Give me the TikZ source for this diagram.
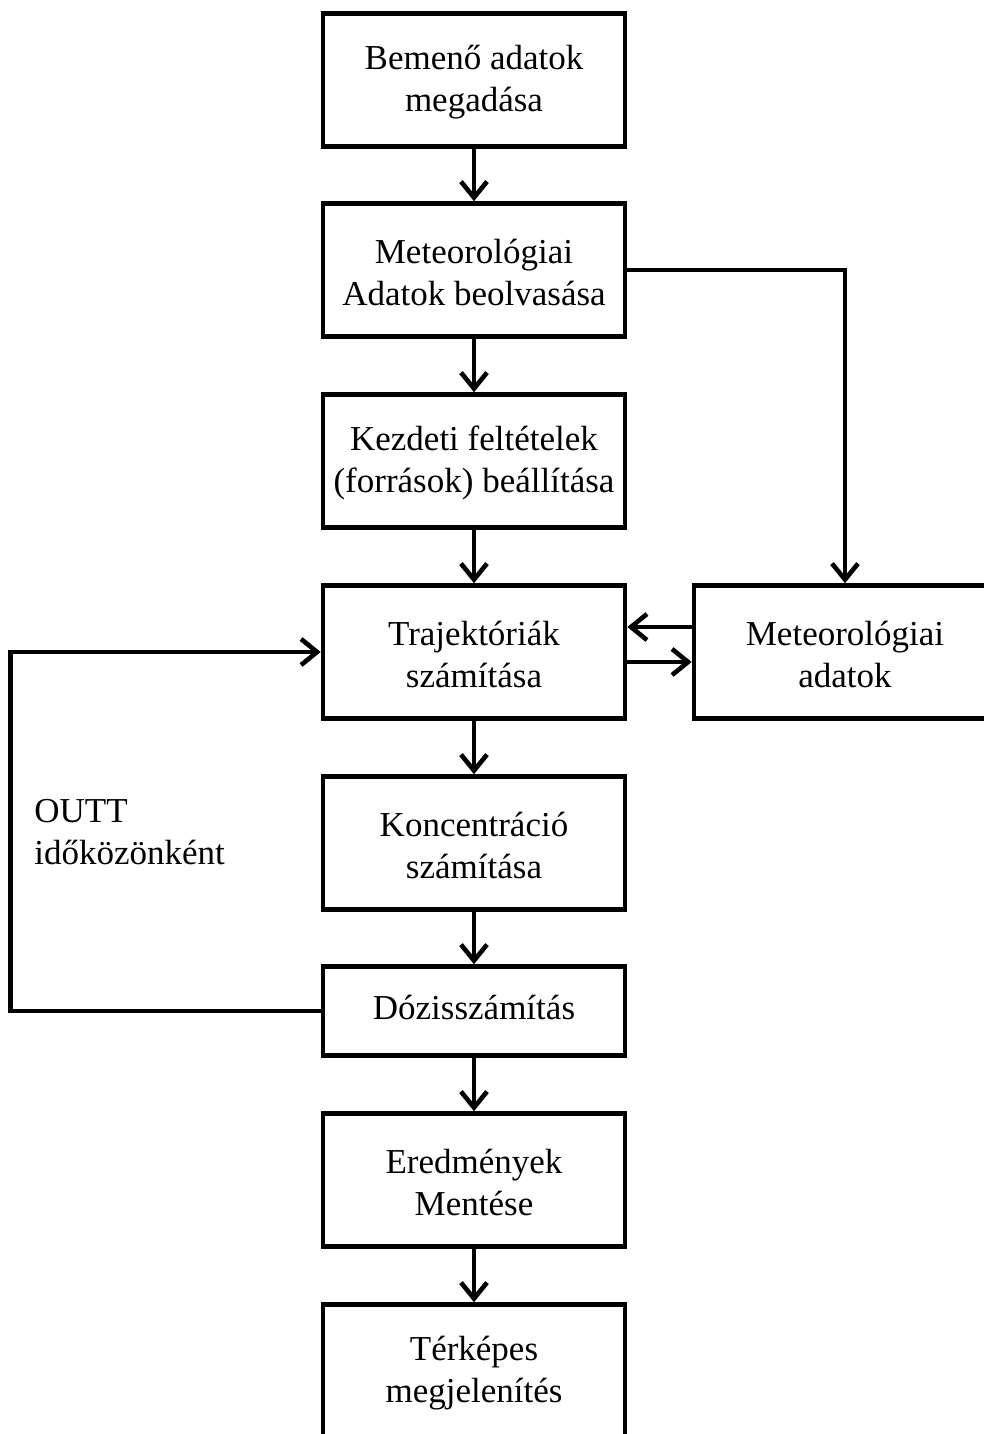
\documentclass[tikz,border=0pt]{standalone}
\usepackage{fontspec}
\setmainfont{Liberation Serif}
\usetikzlibrary{arrows.meta,calc}
\begin{document}
\begin{tikzpicture}[x=0.5pt,y=-0.5pt,
  box/.style={draw,line width=2.3pt,minimum width=151pt,minimum height=66.5pt,align=center,inner sep=0pt,
    font=\fontsize{17.5}{21}\selectfont},
  arr/.style={line width=2.3pt,-{Straight Barb[length=8pt,width=13pt,line width=2.3pt]}},
  lbl/.style={align=left,inner sep=0pt,font=\fontsize{17.5}{21}\selectfont}]
\useasboundingbox (0,0) rectangle (984,1434);
\clip (0,0) rectangle (984,1434);
\node[box] (b1) at (474,80) {\strut Bemenő adatok\\megadása};
\node[box] (b2) at (474,270) {\strut Meteorológiai\\Adatok beolvasása};
\node[box] (b3) at (474,461) {\strut Kezdeti feltételek\\(források) beállítása};
\node[box] (b4) at (474,652) {\strut Trajektóriák\\számítása};
\node[box] (b5) at (474,843) {\strut Koncentráció\\számítása};
\node[box,minimum height=44.5pt] (b6) at (474,1011) {\strut Dózisszámítás};
\node[box] (b7) at (474,1180) {\strut Eredmények\\Mentése};
\node[box] (b8) at (474,1371) {\strut Térképes\\megjelenítés};
\node[box] (m) at (845,652) {\strut Meteorológiai\\adatok};
\node[lbl,anchor=west] (lab) at (34,832) {OUTT\\időközönként};
\draw[arr] (b1) -- (b2);
\draw[arr] (b2) -- (b3);
\draw[arr] (b3) -- (b4);
\draw[arr] (b4) -- (b5);
\draw[arr] (b5) -- (b6);
\draw[arr] (b6) -- (b7);
\draw[arr] (b7) -- (b8);
\draw[arr] (b2.east) -| (m.north);
\draw[arr] ([yshift=12.5pt]m.west) -- ([yshift=12.5pt]b4.east);
\draw[arr] ([yshift=-5pt]b4.east) -- ([yshift=-5pt]m.west);
\draw[arr,line join=miter] (b6.west) -- ++(-310,0) |- (b4.west);
\end{tikzpicture}
\end{document}
